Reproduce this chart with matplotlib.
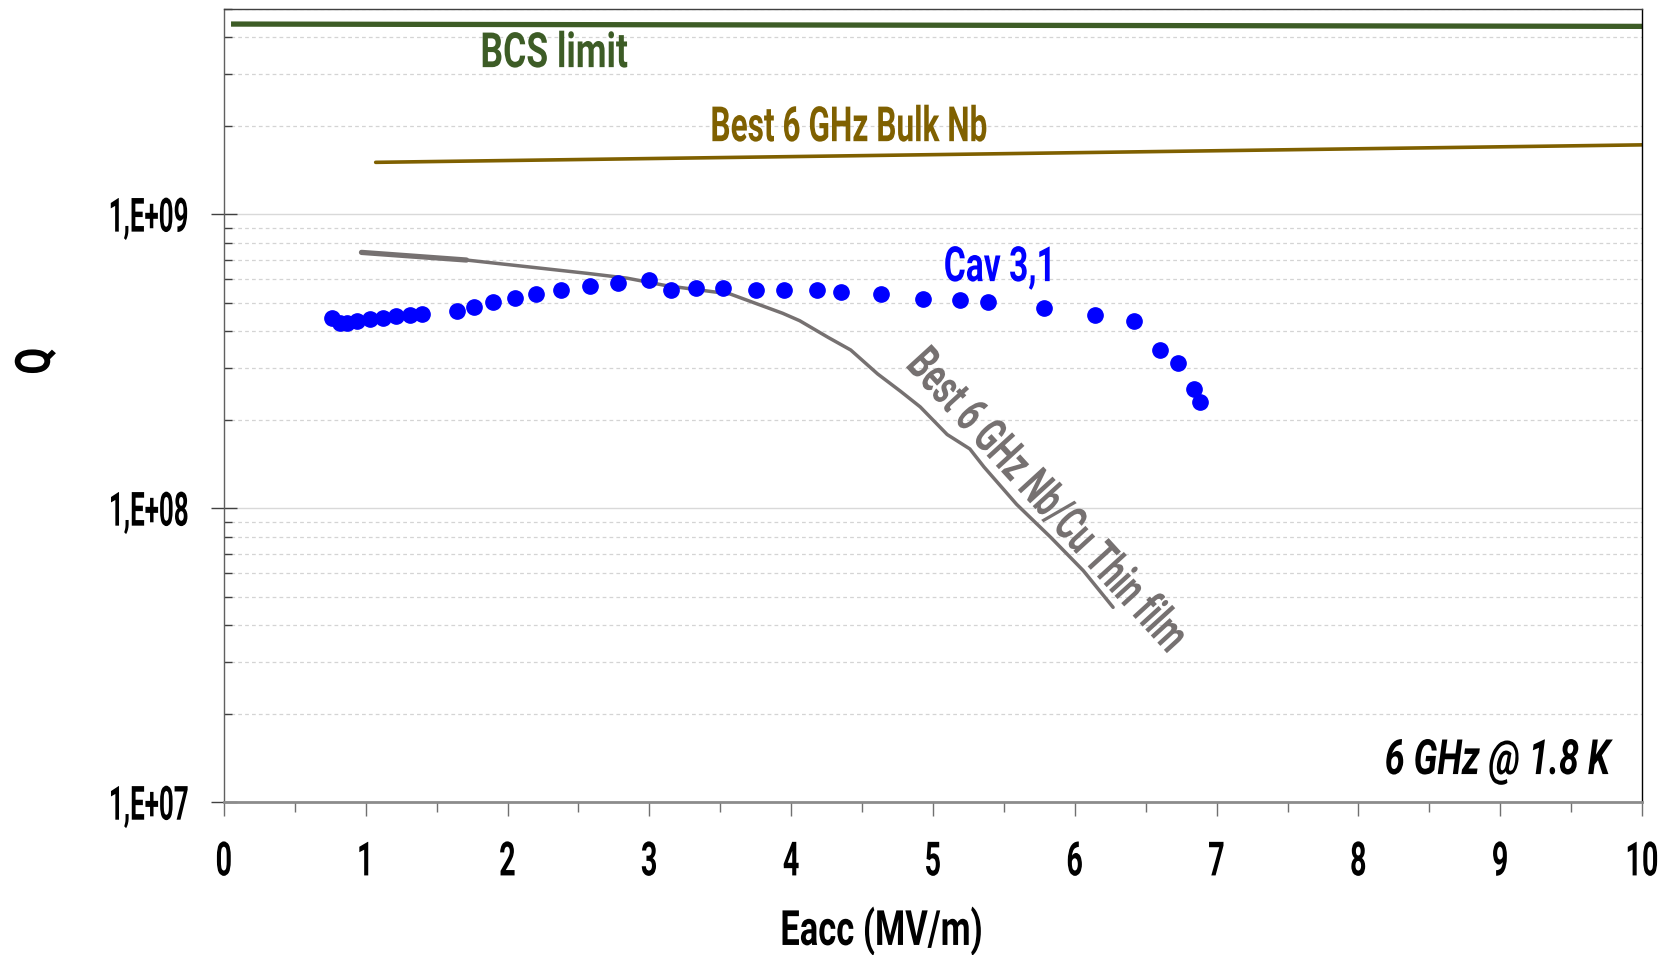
import numpy as np
import matplotlib
matplotlib.use("Agg")
import matplotlib.pyplot as plt
from matplotlib.ticker import LogLocator, FuncFormatter, MultipleLocator, NullFormatter
from matplotlib.patheffects import AbstractPathEffect
from matplotlib.transforms import Affine2D

# Cav 3,1 measurement: Eacc (MV/m) and Q0
cav_e = [0.76, 0.82, 0.87, 0.94, 1.03, 1.12, 1.21, 1.31, 1.40, 1.64, 1.76, 1.90,
         2.05, 2.20, 2.38, 2.58, 2.78, 3.00, 3.15, 3.33, 3.52, 3.75, 3.95, 4.18,
         4.35, 4.63, 4.93, 5.19, 5.39, 5.78, 6.14, 6.42, 6.60, 6.73, 6.84, 6.88]
cav_q = [4.43e8, 4.25e8, 4.25e8, 4.32e8, 4.39e8, 4.43e8, 4.50e8, 4.54e8, 4.58e8,
         4.69e8, 4.85e8, 5.01e8, 5.19e8, 5.36e8, 5.50e8, 5.69e8, 5.82e8, 5.97e8,
         5.54e8, 5.59e8, 5.59e8, 5.54e8, 5.50e8, 5.50e8, 5.45e8, 5.36e8, 5.14e8,
         5.10e8, 5.01e8, 4.81e8, 4.54e8, 4.32e8, 3.45e8, 3.12e8, 2.54e8, 2.30e8]

# best Nb/Cu thin film curve
film_e = [0.97, 1.71, 2.18, 2.56, 2.84, 3.12, 3.57, 3.76, 3.94, 4.06, 4.26, 4.42,
          4.61, 4.77, 4.91, 5.10, 5.26, 5.36, 5.59, 5.83, 6.06, 6.27]
film_q = [7.41e8, 6.98e8, 6.59e8, 6.29e8, 6.06e8, 5.71e8, 5.35e8, 4.95e8, 4.60e8,
          4.34e8, 3.81e8, 3.45e8, 2.86e8, 2.50e8, 2.21e8, 1.78e8, 1.59e8, 1.38e8,
          1.03e8, 7.96e7, 6.13e7, 4.60e7]

# best bulk Nb and BCS limit
bulk_e = [1.07, 10.0]
bulk_q = [1.50e9, 1.72e9]
bcs_e = [0.05, 10.0]
bcs_q = [4.43e9, 4.35e9]


class Squeeze(AbstractPathEffect):
    """Draw text narrower (and optionally taller) in its own frame,
    a stand-in for a condensed font."""

    def __init__(self, sx=0.75, anchor=0.5, sy=1.0):
        super().__init__()
        self.sx = sx
        self.sy = sy
        self.anchor = anchor

    def draw_path(self, renderer, gc, tpath, affine, rgbFace=None):
        v = tpath.vertices
        if len(v):
            gx = v[:, 0].min() + self.anchor * (v[:, 0].max() - v[:, 0].min())
            affine = Affine2D().translate(-gx, 0).scale(self.sx, self.sy).translate(gx, 0) + affine
        renderer.draw_path(gc, tpath, affine, rgbFace)


plt.rcParams['font.family'] = ['Roboto', 'DejaVu Sans']

fig = plt.figure(figsize=(16.65, 9.55), dpi=100)
ax = fig.add_axes([0.1345, 0.160, 0.8517, 0.831])

ax.plot(bcs_e, bcs_q, color='#3d5c26', lw=3.8, solid_capstyle='butt')
ax.plot(bulk_e, bulk_q, color='#7f6000', lw=2.6, solid_capstyle='round')
ax.plot(film_e, film_q, color='#767171', lw=2.5, solid_capstyle='round', solid_joinstyle='round')
ax.plot(film_e[:2], film_q[:2], color='#767171', lw=3.8, solid_capstyle='round')
ax.plot(cav_e, cav_q, 'o', color='#0000ff', ms=11, mec='#0000ff')

ax.set_yscale('log')
ax.set_xlim(0, 10)
ax.set_ylim(1e7, 5e9)

ax.xaxis.set_major_locator(MultipleLocator(1))
ax.xaxis.set_minor_locator(MultipleLocator(0.5))
ax.yaxis.set_major_locator(LogLocator(base=10, numticks=10))
ax.yaxis.set_minor_locator(LogLocator(base=10, subs=np.arange(2, 10), numticks=20))
ax.yaxis.set_major_formatter(FuncFormatter(lambda v, p: "1,E+%02d" % int(round(np.log10(v)))))
ax.yaxis.set_minor_formatter(NullFormatter())

ax.grid(True, axis='y', which='major', color='#d9d9d9', lw=1.0, ls='-')
ax.grid(True, axis='y', which='minor', color='#d4d4d4', lw=0.9, ls=(0, (3, 2.5)))
ax.set_axisbelow(True)

# x labels drawn at 25 pt and stretched to the 34 pt look, keeps the "10" box inside
XT_SIZE, XT_LOOK = 25, 34
ax.tick_params(axis='x', which='major', direction='out', length=10, width=1, color='#707070',
               labelsize=XT_SIZE, pad=24)
ax.tick_params(axis='x', which='minor', direction='out', length=7, width=1, color='#707070')
ax.tick_params(axis='y', which='major', direction='inout', length=19, width=1, color='#404040',
               labelsize=34, pad=15)
ax.tick_params(axis='y', which='minor', direction='in', length=6, width=1, color='#404040')

ax.spines['left'].set_color('#606060')
ax.spines['left'].set_linewidth(1)
ax.spines['bottom'].set_color('#8c8c8c')
ax.spines['bottom'].set_linewidth(2)
ax.spines['top'].set_color('#404040')
ax.spines['top'].set_linewidth(1)
ax.spines['right'].set_color('#000000')
ax.spines['right'].set_linewidth(1)

ax.set_xlabel('Eacc (MV/m)', fontsize=35, fontweight='bold', va='center',
              path_effects=[Squeeze(0.71)])
ax.xaxis.set_label_coords(0.464, -0.1626)
ax.set_ylabel('Q', fontsize=35, fontweight='bold', va='center',
              path_effects=[Squeeze(0.8)])
ax.yaxis.set_label_coords(-0.132, 0.556)

ax.text(2.33, 3.5e9, 'BCS limit', color='#3d5c26', fontsize=35, fontweight='bold',
        ha='center', va='center', path_effects=[Squeeze(0.73)])
ax.text(4.41, 1.96e9, 'Best 6 GHz Bulk Nb', color='#7f6000', fontsize=35, fontweight='bold',
        ha='center', va='center', path_effects=[Squeeze(0.65)])
ax.text(5.48, 6.55e8, 'Cav 3,1', color='#0000ff', fontsize=35, fontweight='bold',
        ha='center', va='center', path_effects=[Squeeze(0.69)])
ax.text(5.80, 1.05e8, 'Best 6 GHz Nb/Cu Thin film', color='#767171', fontsize=35,
        fontweight='bold', ha='center', va='center', rotation=-47.6, rotation_mode='anchor',
        path_effects=[Squeeze(0.65)])
ax.text(9.77, 1.38e7, '6 GHz @ 1.8 K', color='#000000', fontsize=35, fontweight='bold',
        fontstyle='italic', ha='right', va='center', path_effects=[Squeeze(0.74, anchor=1.0)])

# tick labels exist only after a first draw
fig.canvas.draw()
k = XT_LOOK / XT_SIZE
for t in ax.xaxis.get_major_ticks():
    t.label1.set_fontweight('bold')
    t.label1.set_path_effects([Squeeze(0.61 * k, sy=k)])
for t in ax.yaxis.get_major_ticks():
    t.label1.set_fontweight('bold')
    t.label1.set_path_effects([Squeeze(0.55, anchor=1.0)])

fig.savefig('out.png', dpi=100)
